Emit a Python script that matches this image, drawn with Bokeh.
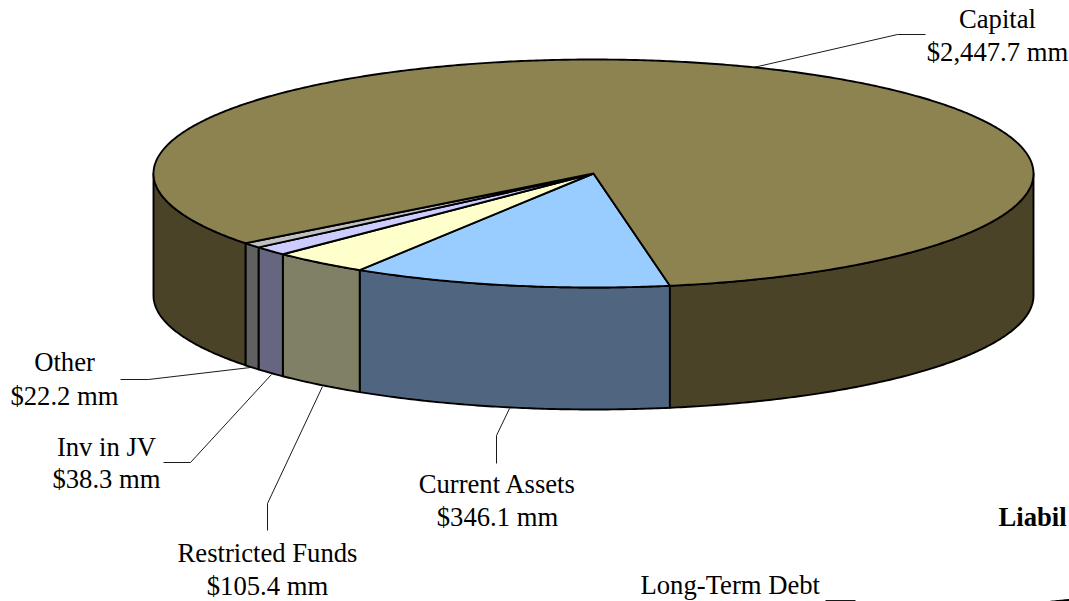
import numpy as np
from bokeh.plotting import figure
from bokeh.embed import file_html
from bokeh.resources import INLINE
from bokeh.core.properties import value

categories = ["Current Assets", "Restricted Funds", "Inv in JV", "Other", "Capital"]
amounts = [346.1, 105.4, 38.3, 22.2, 2447.7]
value_labels = ["$346.1 mm", "$105.4 mm", "$38.3 mm", "$22.2 mm", "$2,447.7 mm"]
top_colors = ["#99CCFF", "#FFFFCC", "#CCCCFF", "#C0C0C0", "#8C8350"]
side_colors = ["#4F6580", "#808066", "#666680", "#606060", "#4A4328"]

CX, CY, RX, RY, DEPTH = 593, 173, 440, 114, 122
START = 80.0
FONT = value("Liberation Serif")
FS = "26.67px"

p = figure(width=1069, height=601, x_range=(0, 1069), y_range=(601, 0),
           output_backend="svg", toolbar_location=None, min_border=0,
           outline_line_color=None, background_fill_color="white")
p.axis.visible = False
p.grid.visible = False


def rim(a0, a1, dy=0.0):
    t = np.radians(np.linspace(a0, a1, max(int(abs(a1 - a0) * 2), 2)))
    return CX + RX * np.cos(t), CY + RY * np.sin(t) + dy


sweeps = np.array(amounts) / sum(amounts) * 360
a0s = START + np.concatenate([[0], np.cumsum(sweeps)[:-1]])
a1s = a0s + sweeps

# side walls: only the front half (0..180 deg) of the cylinder shows
for a0, a1, col in zip(a0s, a1s, side_colors):
    for lo, hi in [(a0, a1), (a0 - 360, a1 - 360)]:
        l, h = max(lo, 0), min(hi, 180)
        if h <= l:
            continue
        xt, yt = rim(l, h)
        xb, yb = rim(h, l, DEPTH)
        p.patch(np.r_[xt, xb], np.r_[yt, yb], fill_color=col, line_color="black",
                line_width=1.9, line_join="round")

# top faces
for a0, a1, col in zip(a0s, a1s, top_colors):
    xt, yt = rim(a0, a1)
    p.patch(np.r_[CX, xt], np.r_[CY, yt], fill_color=col, line_color="black",
            line_width=1.9, line_join="round")

# leaders
leaders = [
    ([753, 897, 925], [67, 34, 34]),
    ([496, 496, 509], [463, 435, 408]),
    ([267, 267, 322], [530, 503, 386]),
    ([163, 190, 271], [462, 462, 374]),
    ([120, 148, 250], [379, 379, 367]),
    ([825, 855], [600, 600]),
]
for xs, ys in leaders:
    p.line(xs, ys, line_color="black", line_width=0.9)

# labels: name line and value line
label_pos = [(497, 483, 516), (267, 552, 585), (106, 446, 478), (64, 361, 395), (997, 18, 51)]
for name, val, (x, y1, y2) in zip(categories, value_labels, label_pos):
    p.text([x], [y1], text=[name], text_font=FONT, text_font_size=FS,
           text_align="center", text_baseline="middle", text_color="black")
    p.text([x], [y2], text=[val], text_font=FONT, text_font_size=FS,
           text_align="center", text_baseline="middle", text_color="black")

p.text([640], [584.5], text=["Long-Term Debt"], text_font=FONT, text_font_size=FS,
       text_align="left", text_baseline="middle", text_color="black")
p.text([998], [516], text=["Liabil"], text_font=FONT, text_font_size=FS,
       text_font_style="bold", text_align="left", text_baseline="middle", text_color="black")

# top edge of the second pie, which the frame cuts off
u = np.linspace(1035, 1080, 30)
v = 706 - 114 * np.sqrt(1 - ((u - 1224) / 440) ** 2)
p.patch(np.r_[u, 1080, 1035], np.r_[v, 620, 620], fill_color="#8C8350", line_color="black", line_width=1.9)

open("out.html", "w").write(file_html(p, INLINE))
